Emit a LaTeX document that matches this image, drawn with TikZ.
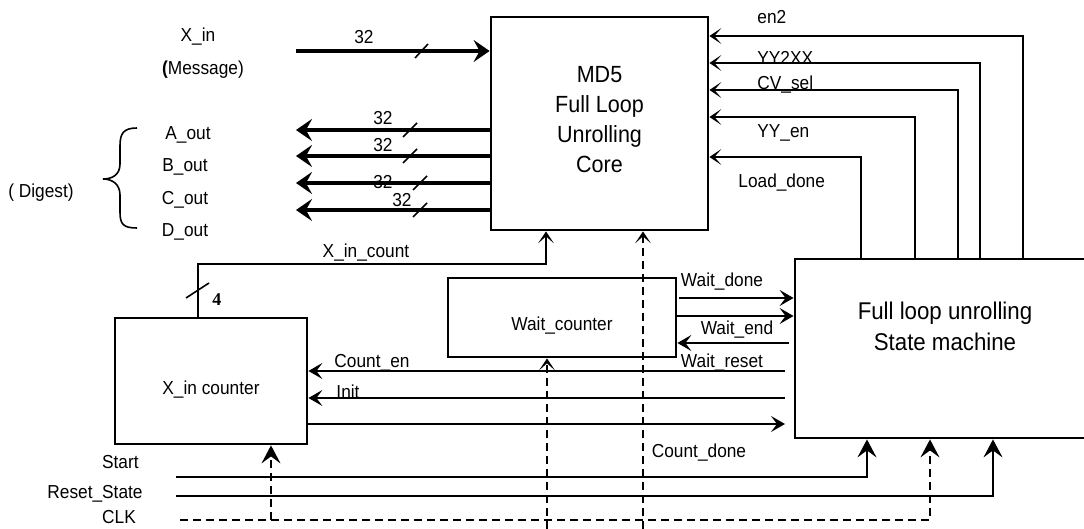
\documentclass[tikz,border=0pt]{standalone}
\usepackage{fontspec}
\setmainfont{Liberation Sans}[FakeStretch=0.92]
\newfontfamily\numserif{Liberation Serif}
\usetikzlibrary{arrows.meta, positioning, calc}

\tikzset{
  block/.style={draw, line width=1.4pt, inner sep=0pt},
  sig/.style={line width=0.8pt},
  bus/.style={line width=1.6pt},
  clkline/.style={line width=0.8pt, dash pattern=on 4pt off 2.5pt},
  lbl/.style={font=\fontsize{9.4}{10}\selectfont, inner sep=0pt},
  tipbus/.style={-{Stealth[length=8pt, width=11pt, inset=3pt]}},
  tipbig/.style={-{Stealth[length=9pt, width=9.5pt, inset=3.5pt]}},
  tipmid/.style={-{Stealth[length=7pt, width=8pt, inset=3pt]}},
  tipsmall/.style={-{Stealth[length=6pt, width=8pt, inset=3.5pt]}}
}

\begin{document}
\begin{tikzpicture}[x=0.5pt, y=-0.5pt]
    \useasboundingbox (0,0) rectangle (1084,529);

    % blocks
    \node[block, minimum width=108.5pt, minimum height=106.5pt,
      label={[font=\fontsize{11.7}{15}\selectfont, align=center, yshift=2pt]center:MD5\\Full Loop\\Unrolling\\Core}] (core) at (599.5,123.5) {};
    \node[block, minimum width=96pt, minimum height=63pt,
      label={[lbl, yshift=-4.5pt]center:X\_in counter}] (xcnt) at (211,381) {};
    \node[block, minimum width=114pt, minimum height=39.5pt,
      label={[lbl, yshift=-4pt]center:Wait\_counter}] (wcnt) at (562,317.5) {};
    \node[block, minimum width=157.5pt, minimum height=89.5pt,
      label={[font=\fontsize{12.1}{15.5}\selectfont, align=center, xshift=-3.75pt, yshift=11pt]center:Full loop unrolling\\State machine}] (sm) at (952.5,348.5) {};

    % message in
    \node[lbl] at (198,37) {X\_in};
    \node[lbl] at (203,70) {\textbf{(}Message)};
    \coordinate (xinsrc) at (296,51);
    \draw[bus, tipbus] (xinsrc) -- (core.west |- xinsrc);
    \draw[sig] (415,58) -- (428,44);
    \node[lbl] at (364,37) {32};

    % digest out
    \foreach \y/\sx/\lx/\ly in {130/410/383/118, 156/410/383/145, 183/420/383/182, 210/420/402/200} {
      \coordinate (out\y) at (296,\y);
      \draw[bus, tipbus] (core.west |- out\y) -- (out\y);
      \draw[sig] (\sx-7,\y+7) -- (\sx+7,\y-7);
      \node[lbl] at (\lx,\ly) {32};
    }
    \node[lbl] at (188,135) {A\_out};
    \node[lbl] at (185,167) {B\_out};
    \node[lbl] at (185,200) {C\_out};
    \node[lbl] at (185,232) {D\_out};
    \node[lbl] at (41,193) {( Digest)};
    \draw[sig] (137,128) .. controls (123,128) and (120,134) .. (120,146) -- (120,164)
      .. controls (120,175) and (112,179) .. (103,179)
      .. controls (112,179) and (120,184) .. (120,195) -- (120,212)
      .. controls (120,224) and (123,228) .. (137,228);

    % state machine to core
    \foreach \x/\y in {1023/36, 980/63, 958/90, 915/117, 861/157} {
      \coordinate (ctl) at (\x,\y);
      \draw[sig, tipsmall] (sm.north -| ctl) -- (ctl) -- (core.east |- ctl);
    }
    \node[lbl, anchor=west] at (757,17) {en2};
    \node[lbl, anchor=west] at (757,58) {YY2XX};
    \node[lbl, anchor=west] at (757,85) {CV\_sel};
    \node[lbl, anchor=west] at (757,133) {YY\_en};
    \node[lbl, anchor=west] at (738,183) {Load\_done};

    % X_in_count
    \coordinate (xicbend) at (198,264);
    \coordinate (xicup) at (546,264);
    \draw[sig, tipsmall] (xcnt.north -| xicbend) -- (xicbend) -- (xicup) -- (core.south -| xicup);
    \draw[sig] (186,298) -- (209,283);
    \node[font=\numserif\bfseries\fontsize{9}{10}\selectfont, inner sep=0pt] at (217,300) {4};
    \node[lbl] at (366,253) {X\_in\_count};

    % wait counter handshake
    \coordinate (wdsrc) at (679,298);
    \draw[sig, tipmid] (wdsrc) -- (sm.west |- wdsrc);
    \coordinate (wdlev) at (700,316);
    \draw[sig, tipmid] (wcnt.east |- wdlev) -- (sm.west |- wdlev);
    \node[lbl] at (722,282) {Wait\_done};
    \coordinate (wend) at (789,343);
    \draw[sig, tipmid] (wend) -- (wcnt.east |- wend);
    \node[lbl] at (737,330) {Wait\_end};

    % counter control
    \coordinate (wreset) at (785,371);
    \draw[sig, tipmid] (wreset) -- (xcnt.east |- wreset);
    \node[lbl] at (722,363) {Wait\_reset};
    \node[lbl] at (372,363) {Count\_en};
    \coordinate (init) at (785,398);
    \draw[sig, tipmid] (init) -- (xcnt.east |- init);
    \node[lbl] at (348,392) {Init};
    \coordinate (cdone) at (785,424);
    \draw[sig, tipmid] (xcnt.east |- cdone) -- (cdone);
    \node[lbl] at (699,453) {Count\_done};

    % global inputs
    \coordinate (start) at (176,477);
    \coordinate (startx) at (867,477);
    \draw[sig, tipbig] (start) -- (startx) -- (sm.south -| startx);
    \coordinate (rst) at (176,496);
    \coordinate (rstx) at (993,496);
    \draw[sig, tipbig] (rst) -- (rstx) -- (sm.south -| rstx);
    \coordinate (clk) at (180,520);
    \coordinate (clkx) at (930,520);
    \draw[clkline, tipbig] (clk) -- (clkx) -- (sm.south -| clkx);
    \coordinate (clkxc) at (271,520);
    \draw[clkline, tipbig] (clkxc) -- (xcnt.south -| clkxc);
    \coordinate (clkw) at (547,529);
    \draw[clkline, tipsmall] (clkw) -- (wcnt.south -| clkw);
    \coordinate (clkc) at (643,529);
    \draw[clkline, tipsmall] (clkc) -- (core.south -| clkc);
    \node[lbl, anchor=east] at (139,462) {Start};
    \node[lbl, anchor=east] at (143,494) {Reset\_State};
    \node[lbl] at (119,517) {CLK};

    \end{tikzpicture}
\end{document}
